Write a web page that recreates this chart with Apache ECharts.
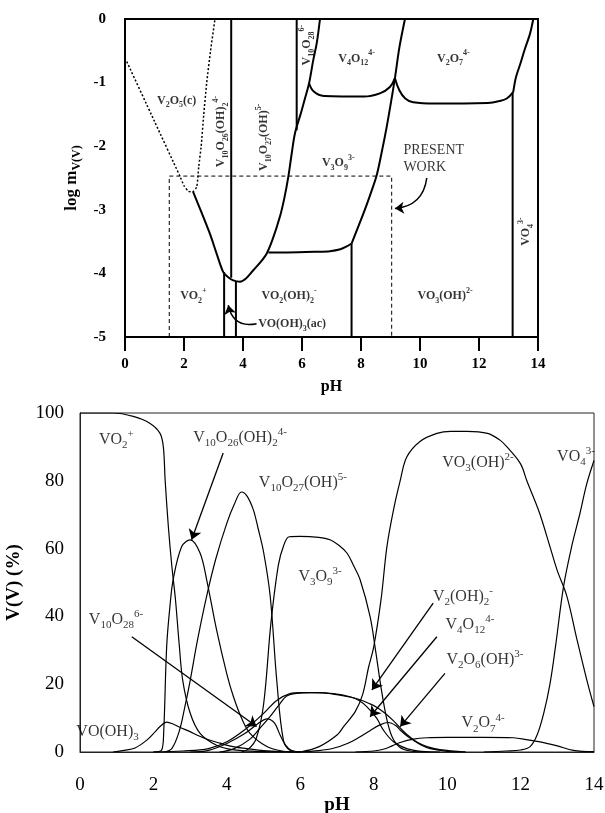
<!DOCTYPE html>
<html><head><meta charset="utf-8">
<script src="https://cdn.jsdelivr.net/npm/echarts/dist/echarts.min.js"></script>
<style>html,body{margin:0;padding:0;background:#fff}#c{width:605px;height:813px}</style>
</head><body><div id="c"></div>
<script>
// ---------- TOP PANEL: predominance diagram (pH vs log m) ----------
const pHTicks = [0, 2, 4, 6, 8, 10, 12, 14];
const logTicks = [0, -1, -2, -3, -4, -5];

const v2o5Dotted = [[0.06,-0.67],[1.0,-1.61],[1.86,-2.47],[2.0,-2.62],[2.15,-2.71],[2.28,-2.72],[2.43,-2.64],[2.5,-2.32],[2.58,-2.01],[2.67,-1.5],[2.77,-1.0],[2.9,-0.5],[3.05,0]];
const vCurve = [[2.31,-2.72],[2.6,-3.05],[2.88,-3.38],[3.1,-3.68],[3.33,-3.98],[3.5,-4.06],[3.67,-4.11],[3.9,-4.13],[4.1,-4.08],[4.35,-3.95],[4.6,-3.82],[4.8,-3.69],[5.0,-3.47],[5.25,-3.11],[5.4,-2.82],[5.54,-2.47],[5.64,-2.15],[5.76,-1.8],[5.95,-1.5],[6.1,-1.25],[6.24,-1.01],[6.38,-0.65],[6.5,-0.38],[6.61,0]];
const line360 = [[3.6,0],[3.6,-4.07]];
const line336 = [[3.36,-3.98],[3.36,-5]];
const line376 = [[3.76,-4.12],[3.76,-5]];
const line582 = [[5.82,0],[5.82,-1.75]];
const v3o9Bottom = [[4.86,-3.67],[5.5,-3.67],[6.5,-3.66],[6.95,-3.65],[7.3,-3.62],[7.5,-3.58],[7.68,-3.53]];
const line768 = [[7.68,-3.53],[7.68,-5]];
const v3o9Right = [[7.68,-3.53],[8.08,-3.06],[8.3,-2.78],[8.53,-2.46],[8.7,-2.1],[8.87,-1.7],[9.02,-1.3],[9.15,-0.93],[9.3,-0.45],[9.49,0]];
const v4o12Bottom = [[6.24,-1.01],[6.4,-1.14],[6.74,-1.21],[8.1,-1.22],[8.64,-1.17],[8.98,-1.07],[9.15,-0.93]];
const v2o7Bottom = [[9.15,-0.93],[9.3,-1.12],[9.5,-1.25],[9.77,-1.31],[10.5,-1.33],[12.3,-1.32],[12.7,-1.29],[12.94,-1.25],[13.16,-1.15]];
const vo4Boundary = [[13.16,-1.15],[13.25,-0.92],[13.39,-0.72],[13.55,-0.48],[13.73,-0.23],[13.84,0]];
const line1314 = [[13.14,-1.15],[13.14,-5]];
const presentWorkBox = [[1.5,-5],[1.5,-2.47],[9.04,-2.47],[9.04,-5]];

const topLabels = [
  [1.75,-1.28,'V_{2}O_{5}(c)',0],
  [3.25,-1.77,'V_{10}O_{26}(OH)_{2}^{4-}',90],
  [4.71,-1.86,'V_{10}O_{27}(OH)^{5-}',90],
  [6.17,-0.41,'V_{10}O_{28}^{6-}',90],
  [7.85,-0.62,'V_{4}O_{12}^{4-}',0],
  [11.13,-0.62,'V_{2}O_{7}^{4-}',0],
  [7.23,-2.27,'V_{3}O_{9}^{3-}',0],
  [13.6,-3.34,'VO_{4}^{3-}',90],
  [2.32,-4.35,'VO_{2}^{+}',0],
  [5.56,-4.35,'VO_{2}(OH)_{2}^{-}',0],
  [10.85,-4.35,'VO_{3}(OH)^{2-}',0]
];
const topLeftLabels = [
  [4.47,-4.79,'VO(OH)_{3}(ac)']
];
const presentWorkText = [9.42,-2.2,'PRESENT\nWORK'];
const topArrows = [
  {from:[10.23,-2.5], to:[9.15,-2.98], curve:0.4},
  {from:[4.46,-4.79], to:[3.5,-4.5], curve:0.5}
];

// ---------- BOTTOM PANEL: distribution (pH vs % V(V)) ----------
const pctTicks = [0, 20, 40, 60, 80, 100];
const vo2 = [[0,100],[0.9,100],[1.45,99],[1.9,97],[2.18,94],[2.27,90],[2.32,80],[2.41,66],[2.5,55],[2.6,45],[2.7,32],[2.8,21],[3.0,11.5],[3.27,5.5],[3.72,2],[4.2,0.6],[5,0.1],[6,0]];
const vooh3 = [[0.9,0],[1.2,0.5],[1.5,1.2],[1.82,3.5],[2.05,6],[2.18,7.5],[2.36,8.8],[2.55,8.2],[2.72,7.3],[3.0,6],[3.18,5],[3.5,3.6],[3.81,2.6],[4.2,1.5],[4.54,1.0],[5,0.4],[5.5,0.1],[6,0]];
const v10o26 = [[2.0,0],[2.22,0.5],[2.28,6],[2.36,31],[2.45,43],[2.54,51],[2.77,60.6],[3.0,62.6],[3.27,58.7],[3.45,50.8],[3.72,36],[4.0,23],[4.18,16.3],[4.4,10],[4.63,5.5],[5.09,1.6],[5.5,0.3],[6,0]];
const v10o27 = [[2.3,0],[2.5,1],[2.7,6],[2.85,13],[3.0,21],[3.2,33],[3.45,46],[3.7,57],[4.0,67.5],[4.2,73],[4.4,76.7],[4.55,75.5],[4.72,71.5],[4.85,66],[5.0,59],[5.18,46],[5.36,21],[5.54,3.5],[5.72,0.5],[6,0]];
const v10o28 = [[3.0,0],[3.5,0.5],[4.0,2.5],[4.5,5.5],[4.8,8],[5.1,9.8],[5.3,8.5],[5.45,5],[5.6,2],[5.75,0.5],[6.0,0]];
const v3o9 = [[4.4,0],[4.6,1],[4.8,4],[5.0,14],[5.2,38],[5.4,55],[5.55,61],[5.7,63.5],[6.0,63.6],[6.5,63.3],[6.81,62.6],[7.05,61],[7.27,58.7],[7.45,55],[7.63,50.8],[7.9,40],[8.05,30],[8.2,19],[8.35,10],[8.5,4.5],[8.7,1.5],[9.0,0.3],[9.5,0]];
const vo2oh2 = [[2.0,0],[2.8,0.3],[3.5,1],[4.0,3],[4.54,7],[5.0,11.4],[5.36,15.2],[5.72,17.2],[6.0,17.5],[6.5,17.5],[6.9,17.1],[7.3,16.3],[7.63,15.4],[7.9,14.2],[8.08,13.2],[8.3,11.5],[8.54,9.2],[8.8,6.2],[8.99,4.4],[9.2,2.8],[9.45,1.6],[9.8,0.7],[10.5,0]];
const v4o12 = [[3.8,0],[4.2,1],[4.63,3.8],[4.9,7],[5.18,10.5],[5.45,14.3],[5.63,16.5],[5.9,17.3],[6.3,17.5],[6.9,17.2],[7.36,16.3],[7.6,15.2],[7.81,13.4],[8.08,10],[8.26,6.5],[8.54,3],[8.9,1],[9.3,0.2],[9.8,0]];
const v2o6oh = [[6.0,0],[6.5,0.4],[6.9,1.1],[7.3,2.6],[7.63,4.5],[7.9,6.3],[8.17,8],[8.4,8.7],[8.6,7.8],[8.72,6.5],[8.9,4.8],[9.08,3.5],[9.3,2],[9.54,1],[10,0.2],[10.5,0]];
const v2o7 = [[7.5,0],[8.0,0.3],[8.26,0.8],[8.5,1.8],[8.72,2.8],[9.08,3.8],[9.45,4.2],[10,4.3],[11,4.3],[11.8,4.2],[12.2,3.6],[12.53,3],[13.0,1.8],[13.44,0.5],[14,0.1]];
const vo3oh = [[6.0,0],[6.5,1.5],[7.0,5],[7.18,7.5],[7.5,12],[7.7,17],[7.86,25],[8.0,31],[8.2,45],[8.36,60.6],[8.55,72],[8.72,80],[8.9,87],[9.26,91.6],[9.72,94],[10.1,94.6],[10.54,94.6],[11.1,94],[11.44,92],[11.63,90],[12.0,85],[12.17,80],[12.5,71],[12.8,60.6],[13.0,53.5],[13.26,46],[13.54,33],[13.81,21],[14,13.4]];
const vo4 = [[11.0,0],[11.6,0.3],[12.0,0.6],[12.26,1.6],[12.45,5],[12.63,11.4],[12.8,20],[12.95,31],[13.17,48.8],[13.4,61],[13.62,70.5],[13.8,79],[14,86]];

const bottomLabels = [
  [0.99,92.1,'VO_{2}^{+}'],
  [4.36,92.7,'V_{10}O_{26}(OH)_{2}^{4-}'],
  [6.07,79.4,'V_{10}O_{27}(OH)^{5-}'],
  [6.54,51.7,'V_{3}O_{9}^{3-}'],
  [0.98,39,'V_{10}O_{28}^{6-}'],
  [0.75,5.9,'VO(OH)_{3}'],
  [10.84,85.3,'VO_{3}(OH)^{2-}'],
  [13.51,87.2,'VO_{4}^{3-}'],
  [10.43,45.9,'V_{2}(OH)_{2}^{-}'],
  [10.62,37.5,'V_{4}O_{12}^{4-}'],
  [11.03,27.2,'V_{2}O_{6}(OH)^{3-}'],
  [10.98,8.5,'V_{2}O_{7}^{4-}']
];
const bottomArrows = [
  {from:[3.9,88.2], to:[3.04,62.6]},
  {from:[1.41,34.0], to:[4.81,7.5]},
  {from:[9.62,43.9], to:[7.95,18.3]},
  {from:[9.72,34.0], to:[7.9,10.4]},
  {from:[9.94,23.2], to:[8.72,7.5]}
];

// ---------- rendering ----------
const serif = 'Liberation Serif';
function rt(s, p) {
  const re = /_\{([^}]*)\}|\^\{([^}]*)\}|([^_^]+)/g;
  let out = '', m;
  while ((m = re.exec(s)) !== null) {
    if (m[1] !== undefined) out += '{' + p + 's|' + m[1] + '}';
    else if (m[2] !== undefined) out += '{' + p + 'p|' + m[2] + '}';
    else out += '{' + p + 'n|' + m[3] + '}';
  }
  return out;
}
const richStyles = {
  tn:{fontFamily:serif,fontWeight:'bold',fontSize:12,lineHeight:18,color:'#000'},
  ts:{fontFamily:serif,fontWeight:'bold',fontSize:8,lineHeight:8,verticalAlign:'bottom',color:'#000'},
  tp:{fontFamily:serif,fontWeight:'bold',fontSize:8,lineHeight:8,verticalAlign:'top',color:'#000'},
  bn:{fontFamily:serif,fontSize:16,lineHeight:22,color:'#000'},
  bs:{fontFamily:serif,fontSize:11,lineHeight:11,verticalAlign:'bottom',color:'#000'},
  bp:{fontFamily:serif,fontSize:11,lineHeight:11,verticalAlign:'top',color:'#000'}
};

const series = [];
function topLine(data, opts) {
  opts = opts || {};
  series.push({
    type:'line', xAxisIndex:0, yAxisIndex:0, data:data, symbol:'none', silent:true,
    smooth: opts.smooth || false, clip: opts.clip === undefined ? true : opts.clip,
    lineStyle:{color:'#000', width: opts.width || 2, type: opts.type || 'solid'}
  });
}
topLine(v2o5Dotted, {type:[2,2], width:1.5, smooth:0.2});
topLine(vCurve, {smooth:0.3});
topLine(line360); topLine(line336); topLine(line376); topLine(line582);
topLine(v3o9Bottom, {smooth:0.3});
topLine(line768);
topLine(v3o9Right, {smooth:0.3});
topLine(v4o12Bottom, {smooth:0.4});
topLine(v2o7Bottom, {smooth:0.4});
topLine(vo4Boundary, {smooth:0.3});
topLine(line1314);
topLine(presentWorkBox, {type:[4,3], width:1});

// outward tick marks of the top panel, drawn through the panel's own scales
const xTickLen = 0.22;   // in log units (≈14 px)
const yTickLen = 0.475;  // in pH units (≈14 px)
const yMin = logTicks[logTicks.length-1];
pHTicks.forEach(t => topLine([[t, yMin], [t, yMin - xTickLen]], {clip:false}));
logTicks.forEach(v => topLine([[pHTicks[0], v], [pHTicks[0] - yTickLen, v]], {clip:false}));

series.push({
  type:'scatter', xAxisIndex:0, yAxisIndex:0, symbolSize:1, silent:true,
  itemStyle:{color:'rgba(0,0,0,0)'},
  data: topLabels.map(l => ({value:[l[0],l[1]], name:l[2], label:{rotate:l[3]}})),
  label:{show:true, position:'inside', formatter:p => rt(p.name,'t'), rich:richStyles}
});
series.push({
  type:'scatter', xAxisIndex:0, yAxisIndex:0, symbolSize:1, silent:true,
  itemStyle:{color:'rgba(0,0,0,0)'},
  data: topLeftLabels.map(l => ({value:[l[0],l[1]], name:l[2]})),
  label:{show:true, position:'right', distance:1, formatter:p => rt(p.name,'t'), rich:richStyles}
});
series.push({
  type:'scatter', xAxisIndex:0, yAxisIndex:0, symbolSize:1, silent:true,
  itemStyle:{color:'rgba(0,0,0,0)'},
  data: [{value:[presentWorkText[0],presentWorkText[1]], name:presentWorkText[2]}],
  label:{show:true, position:'right', distance:0, align:'left', formatter:p => p.name,
         fontFamily:serif, fontSize:14, lineHeight:17, color:'#000'}
});
series.push({
  type:'lines', coordinateSystem:'cartesian2d', xAxisIndex:0, yAxisIndex:0, silent:true,
  symbol:['none','arrow'], symbolSize:9,
  lineStyle:{color:'#000', width:1.5, opacity:1},
  data: topArrows.map(a => ({coords:[a.from, a.to], lineStyle:{curveness:a.curve}}))
});

function bottomLine(data) {
  series.push({
    type:'line', xAxisIndex:1, yAxisIndex:1, data:data, symbol:'none', silent:true,
    smooth:0.35, lineStyle:{color:'#000', width:1.2}
  });
}
[vo2, vooh3, v10o26, v10o27, v10o28, v3o9, vo2oh2, v4o12, v2o6oh, v2o7, vo3oh, vo4].forEach(bottomLine);
series.push({
  type:'scatter', xAxisIndex:1, yAxisIndex:1, symbolSize:1, silent:true,
  itemStyle:{color:'rgba(0,0,0,0)'},
  data: bottomLabels.map(l => ({value:[l[0],l[1]], name:l[2]})),
  label:{show:true, position:'inside', formatter:p => rt(p.name,'b'), rich:richStyles}
});
series.push({
  type:'lines', coordinateSystem:'cartesian2d', xAxisIndex:1, yAxisIndex:1, silent:true,
  symbol:['none','arrow'], symbolSize:[0,10],
  lineStyle:{color:'#000', width:1.3, opacity:1},
  data: bottomArrows.map(a => ({coords:[a.from, a.to]}))
});

const chart = echarts.init(document.getElementById('c'), null, {renderer:'canvas'});
chart.setOption({
  animation:false,
  grid:[
    {left:125, top:19, width:413, height:318, show:true, borderColor:'#000', borderWidth:2, outerBoundsMode:'none'},
    {left:80, top:413, width:514, height:339, show:true, borderColor:'#222', borderWidth:1, outerBoundsMode:'none'}
  ],
  xAxis:[
    {gridIndex:0, type:'value', min:pHTicks[0], max:pHTicks[pHTicks.length-1], interval:2,
     axisLine:{show:true, onZero:false, lineStyle:{color:'#000', width:2}},
     axisTick:{show:false},
     axisLabel:{margin:20, fontFamily:serif, fontWeight:'bold', fontSize:15, color:'#000'},
     splitLine:{show:false},
     name:'pH', nameLocation:'middle', nameGap:42,
     nameTextStyle:{fontFamily:serif, fontWeight:'bold', fontSize:16, color:'#000'}},
    {gridIndex:1, type:'value', min:pHTicks[0], max:pHTicks[pHTicks.length-1], interval:2,
     axisLine:{show:true, onZero:false, lineStyle:{color:'#222', width:1}},
     axisTick:{show:false},
     axisLabel:{margin:24, fontFamily:serif, fontSize:19, color:'#000'},
     splitLine:{show:false},
     name:'pH', nameLocation:'middle', nameGap:41,
     nameTextStyle:{fontFamily:serif, fontWeight:'bold', fontSize:19, color:'#000'}}
  ],
  yAxis:[
    {gridIndex:0, type:'value', min:logTicks[logTicks.length-1], max:logTicks[0], interval:1,
     axisLine:{show:true, onZero:false, lineStyle:{color:'#000', width:2}},
     axisTick:{show:false},
     axisLabel:{margin:19, fontFamily:serif, fontWeight:'bold', fontSize:15, color:'#000'},
     splitLine:{show:false},
     name:'{a|log m}{s|V(V)}', nameLocation:'middle', nameGap:42, nameRotate:90,
     nameTextStyle:{rich:{
       a:{fontFamily:serif, fontWeight:'bold', fontSize:17, lineHeight:22, color:'#000'},
       s:{fontFamily:serif, fontWeight:'bold', fontSize:12, lineHeight:12, verticalAlign:'bottom', color:'#000'}}}},
    {gridIndex:1, type:'value', min:pctTicks[0], max:pctTicks[pctTicks.length-1], interval:20,
     axisLine:{show:true, onZero:false, lineStyle:{color:'#222', width:1}},
     axisTick:{show:false},
     axisLabel:{margin:16, fontFamily:serif, fontSize:19, color:'#000'},
     splitLine:{show:false},
     name:'V(V) (%)', nameLocation:'middle', nameGap:56, nameRotate:90,
     nameTextStyle:{fontFamily:serif, fontWeight:'bold', fontSize:19, color:'#000'}}
  ],
  series: series
});
</script></body></html>
